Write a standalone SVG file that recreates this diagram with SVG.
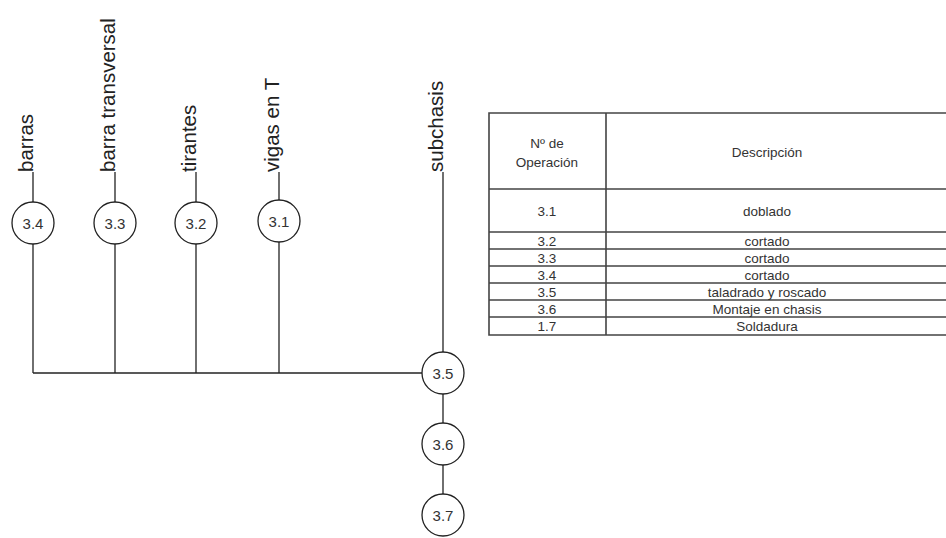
<svg xmlns="http://www.w3.org/2000/svg" width="946" height="538" viewBox="0 0 946 538">
<style>
.ln{stroke:#222;stroke-width:1.3;fill:none}
.nd{fill:#fff;stroke:#222;stroke-width:1.3}
.nt{font-family:"Liberation Sans",Arial,sans-serif;font-size:15px;fill:#333;text-anchor:middle;dominant-baseline:central}
.lb{font-family:"Liberation Sans",Arial,sans-serif;font-size:20.5px;fill:#222}
.tb{stroke:#444;stroke-width:1.6;fill:none}
.tt{font-family:"Liberation Sans",Arial,sans-serif;font-size:13.5px;fill:#333;text-anchor:middle;dominant-baseline:central}
</style>
<rect width="946" height="538" fill="#fff"/>
<g id="connectors">
<line class="ln" x1="33" y1="172" x2="33" y2="373"/>
<line class="ln" x1="115" y1="172" x2="115" y2="373"/>
<line class="ln" x1="196" y1="172" x2="196" y2="373"/>
<line class="ln" x1="279" y1="172" x2="279" y2="373"/>
<line class="ln" x1="443" y1="172" x2="443" y2="515"/>
<line class="ln" x1="33" y1="373" x2="443" y2="373"/>
</g>
<g id="label-barras"><text class="lb" transform="translate(33,172) rotate(-90)">barras</text></g>
<g id="label-barra-transversal"><text class="lb" transform="translate(115,172) rotate(-90)">barra transversal</text></g>
<g id="label-tirantes"><text class="lb" transform="translate(196,172) rotate(-90)">tirantes</text></g>
<g id="label-vigas"><text class="lb" transform="translate(279,172) rotate(-90)">vigas en T</text></g>
<g id="label-subchasis"><text class="lb" transform="translate(443,172) rotate(-90)">subchasis</text></g>
<g id="n34"><circle class="nd" cx="33" cy="223" r="21"/><text class="nt" x="33" y="223">3.4</text></g>
<g id="n33"><circle class="nd" cx="115" cy="223" r="21"/><text class="nt" x="115" y="223">3.3</text></g>
<g id="n32"><circle class="nd" cx="196" cy="223" r="21"/><text class="nt" x="196" y="223">3.2</text></g>
<g id="n31"><circle class="nd" cx="279" cy="221" r="21"/><text class="nt" x="279" y="221">3.1</text></g>
<g id="n35"><circle class="nd" cx="443" cy="373" r="21"/><text class="nt" x="443" y="373">3.5</text></g>
<g id="n36"><circle class="nd" cx="443" cy="444" r="21"/><text class="nt" x="443" y="444">3.6</text></g>
<g id="n37"><circle class="nd" cx="443" cy="515" r="21"/><text class="nt" x="443" y="515">3.7</text></g>
<g id="table">
<path class="tb" d="M950 113H489V335H950M606 113V335M489 189H950M489 232H950M489 249H950M489 266H950M489 283H950M489 300H950M489 317H950"/>
<text class="tt" x="547" y="143">Nº de</text>
<text class="tt" x="547" y="162">Operación</text>
<text class="tt" x="767" y="152">Descripción</text>
<text class="tt" x="547" y="211">3.1</text><text class="tt" x="767" y="211">doblado</text>
<text class="tt" x="547" y="241">3.2</text><text class="tt" x="767" y="241">cortado</text>
<text class="tt" x="547" y="258">3.3</text><text class="tt" x="767" y="258">cortado</text>
<text class="tt" x="547" y="275">3.4</text><text class="tt" x="767" y="275">cortado</text>
<text class="tt" x="547" y="292">3.5</text><text class="tt" x="767" y="292">taladrado y roscado</text>
<text class="tt" x="547" y="309">3.6</text><text class="tt" x="767" y="309">Montaje en chasis</text>
<text class="tt" x="547" y="326">1.7</text><text class="tt" x="767" y="326">Soldadura</text>
</g>
</svg>
